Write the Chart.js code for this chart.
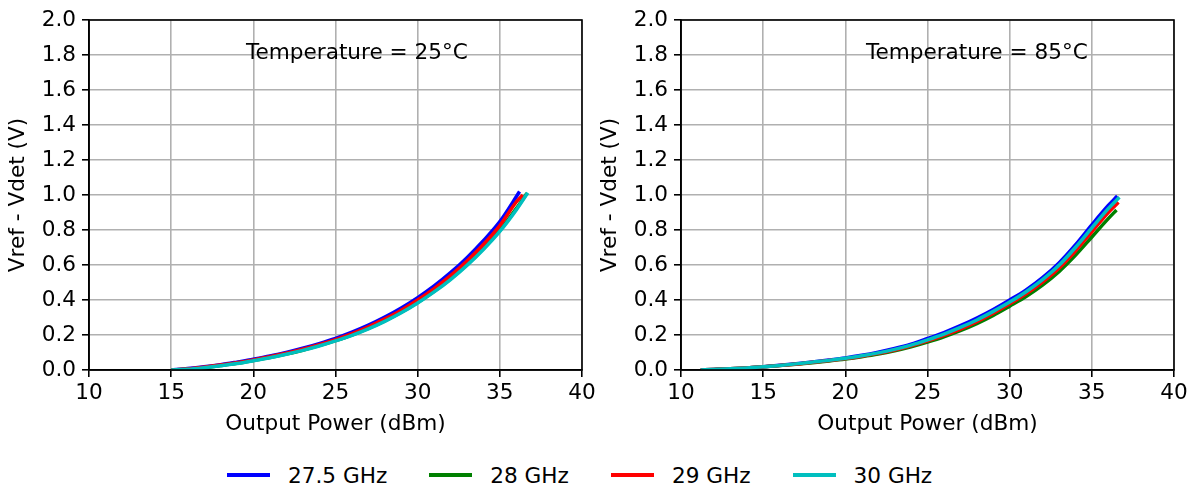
<!DOCTYPE html>
<html>
<head>
<meta charset="utf-8">
<script src="https://cdn.jsdelivr.net/npm/chart.js@4.4.1/dist/chart.umd.min.js"></script>
<style>
  html, body { margin:0; padding:0; background:#fff; }
  body { width:1195px; height:489px; position:relative; overflow:hidden; font-family:"DejaVu Sans", sans-serif; }
  .cv { position:absolute; top:0; }
  #legend { position:absolute; left:227px; top:462px; height:26px; display:flex; align-items:center; font-size:21.6px; color:#000; }
  .item { display:flex; align-items:center; margin-right:42px; }
  .swatch { width:43px; height:4px; margin-right:18px; }
</style>
</head>
<body>
<div class="cv" style="left:0;width:600px;height:440px;"><canvas id="c1" width="600" height="440"></canvas></div>
<div class="cv" style="left:592px;width:600px;height:440px;"><canvas id="c2" width="600" height="440"></canvas></div>
<div id="legend"></div>
<script>
// ---- data ----
const seriesNames = ['27.5 GHz', '28 GHz', '29 GHz', '30 GHz'];
const seriesColors = ['#0000ff', '#008000', '#ff0000', '#00bfbf'];
const xTicks = [10, 15, 20, 25, 30, 35, 40];
const yTicks = [0, 0.2, 0.4, 0.6, 0.8, 1.0, 1.2, 1.4, 1.6, 1.8, 2.0];
const panelTitles = ['Temperature = 25°C', 'Temperature = 85°C'];
const titleX = [19.55, 21.25];
const titleY = [1.775, 1.775];

// 25 °C panel
const p25_275 = [15,16,17,18,19,20,21,22,23,24,25,26,27,28,29,30,31,32,33,34,35,36,36.2];
const v25_275 = [0,0.008,0.018,0.030,0.045,0.061,0.080,0.100,0.124,0.151,0.181,0.216,0.256,0.302,0.354,0.413,0.480,0.556,0.642,0.739,0.848,0.990,1.020];
const p25_28  = [15,16,17,18,19,20,21,22,23,24,25,26,27,28,29,30,31,32,33,34,35,36,36.65];
const v25_28  = [0,0.004,0.013,0.025,0.038,0.054,0.071,0.091,0.113,0.139,0.168,0.200,0.238,0.281,0.330,0.386,0.450,0.521,0.602,0.694,0.798,0.922,1.010];
const p25_29  = [15,16,17,18,19,20,21,22,23,24,25,26,27,28,29,30,31,32,33,34,35,36,36.4];
const v25_29  = [0,0.006,0.016,0.028,0.042,0.058,0.076,0.096,0.119,0.145,0.174,0.208,0.247,0.292,0.342,0.400,0.465,0.539,0.623,0.717,0.825,0.960,1.000];
const p25_30  = [15,16,17,18,19,20,21,22,23,24,25,26,27,28,29,30,31,32,33,34,35,36,36.7];
const v25_30  = [0,0.004,0.013,0.024,0.037,0.053,0.070,0.090,0.112,0.137,0.166,0.198,0.235,0.278,0.327,0.383,0.446,0.517,0.598,0.689,0.792,0.915,1.013];

// 85 °C panel
const p85_275 = [11.2,12,13,14,15,16,17,18,19,20,21,22,23,24,25,26,27,28,29,30,31,32,33,34,35,36,36.55];
const v85_275 = [0,0.003,0.007,0.012,0.019,0.027,0.036,0.046,0.057,0.069,0.084,0.102,0.123,0.148,0.180,0.214,0.253,0.297,0.346,0.400,0.458,0.528,0.612,0.715,0.830,0.940,0.994];
const p85_28  = [11.2,12,13,14,15,16,17,18,19,20,21,22,23,24,25,26,27,28,29,30,31,32,33,34,35,36,36.5];
const v85_28  = [0,0.003,0.007,0.012,0.018,0.025,0.033,0.042,0.052,0.063,0.076,0.091,0.110,0.133,0.160,0.190,0.225,0.265,0.312,0.365,0.420,0.485,0.562,0.655,0.760,0.865,0.914];
const p85_29  = [11.2,12,13,14,15,16,17,18,19,20,21,22,23,24,25,26,27,28,29,30,31,32,33,34,35,36,36.62];
const v85_29  = [0,0.003,0.007,0.012,0.018,0.026,0.034,0.044,0.054,0.065,0.079,0.095,0.114,0.138,0.166,0.198,0.234,0.276,0.324,0.378,0.435,0.502,0.582,0.680,0.790,0.900,0.958];
const p85_30  = [11.2,12,13,14,15,16,17,18,19,20,21,22,23,24,25,26,27,28,29,30,31,32,33,34,35,36,36.68];
const v85_30  = [0,0.003,0.007,0.012,0.018,0.026,0.035,0.045,0.055,0.067,0.081,0.098,0.118,0.142,0.172,0.205,0.243,0.286,0.335,0.388,0.447,0.516,0.598,0.700,0.812,0.922,0.987];

const panel25 = [[p25_275, v25_275], [p25_28, v25_28], [p25_29, v25_29], [p25_30, v25_30]];
const panel85 = [[p85_275, v85_275], [p85_28, v85_28], [p85_29, v85_29], [p85_30, v85_30]];

// ---- chart ----
const FONT = "'DejaVu Sans', sans-serif";
const FS = 21.6;
Chart.defaults.font.family = FONT;
Chart.defaults.font.size = FS;
Chart.defaults.color = '#000';

const framePlugin = {
  id: 'frame',
  afterDatasetsDraw(chart, args, opts) {
    const {ctx, chartArea: a} = chart;
    ctx.save();
    ctx.strokeStyle = '#000';
    ctx.lineWidth = 1.6;
    ctx.strokeRect(a.left, a.top, a.right - a.left, a.bottom - a.top);
    const xs = chart.scales.x, ys = chart.scales.y;
    ctx.fillStyle = '#000';
    ctx.font = FS + 'px ' + FONT;
    ctx.textAlign = 'left';
    ctx.textBaseline = 'alphabetic';
    ctx.fillText(opts.text, xs.getPixelForValue(opts.x), ys.getPixelForValue(opts.y));
    ctx.restore();
  }
};

function makeChart(id, panel, pi) {
  const datasets = panel.map((s, i) => ({
    label: seriesNames[i],
    data: s[0].map((x, k) => ({x: x, y: s[1][k]})),
    borderColor: seriesColors[i],
    backgroundColor: seriesColors[i],
    borderWidth: 3.5,
    pointRadius: 0,
    fill: false,
    order: panel.length - i,
    cubicInterpolationMode: 'monotone'
  }));
  return new Chart(document.getElementById(id), {
    type: 'line',
    data: { datasets },
    plugins: [framePlugin],
    options: {
      responsive: false,
      animation: false,
      layout: { padding: { left: 0, right: 18, top: 20, bottom: 3 } },
      plugins: {
        legend: { display: false },
        tooltip: { enabled: false },
        frame: { text: panelTitles[pi], x: titleX[pi], y: titleY[pi] }
      },
      scales: {
        x: {
          type: 'linear', min: 10, max: 40,
          afterBuildTicks: s => { s.ticks = xTicks.map(v => ({value: v})); },
          afterFit: s => { s.height = 67; },
          ticks: { padding: 3, maxRotation: 0, font: { size: FS }, color: '#000' },
          grid: { color: '#b0b0b0', lineWidth: 1.6, tickColor: '#000', tickLength: 7, tickWidth: 1.6 },
          border: { display: true, color: '#000', width: 1.6 },
          title: { display: true, text: 'Output Power (dBm)', font: { size: FS }, color: '#000', padding: { top: 0, bottom: 0 } }
        },
        y: {
          type: 'linear', min: 0, max: 2,
          afterBuildTicks: s => { s.ticks = yTicks.map(v => ({value: v})); },
          afterFit: s => { s.width = 89; },
          ticks: { padding: 6, font: { size: FS }, color: '#000', callback: v => Number(v).toFixed(1) },
          grid: { color: '#b0b0b0', lineWidth: 1.6, tickColor: '#000', tickLength: 7, tickWidth: 1.6 },
          border: { display: true, color: '#000', width: 1.6 },
          title: { display: true, text: 'Vref - Vdet (V)', font: { size: FS }, color: '#000', padding: { top: 5, bottom: 0 } }
        }
      }
    }
  });
}

makeChart('c1', panel25, 0);
makeChart('c2', panel85, 1);

// legend
const lg = document.getElementById('legend');
seriesNames.forEach((n, i) => {
  const it = document.createElement('div');
  it.className = 'item';
  const sw = document.createElement('div');
  sw.className = 'swatch';
  sw.style.background = seriesColors[i];
  const tx = document.createElement('span');
  tx.textContent = n;
  it.appendChild(sw); it.appendChild(tx);
  lg.appendChild(it);
});
</script>
</body>
</html>
